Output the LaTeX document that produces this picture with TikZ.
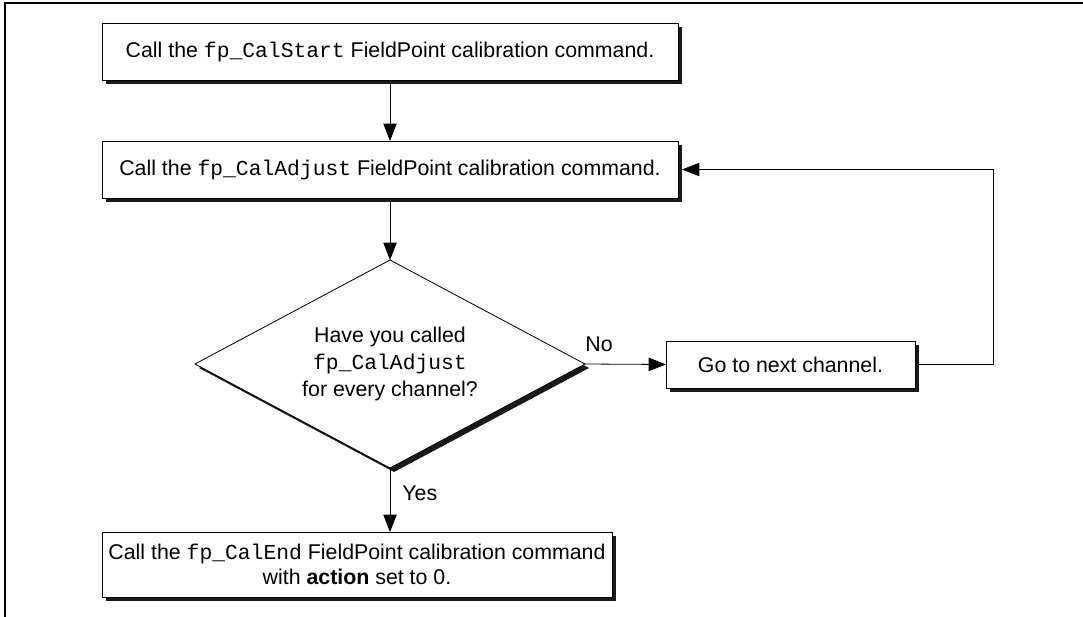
\documentclass[tikz,border=0pt]{standalone}
\usepackage{fontspec}
\setmainfont{Liberation Sans}
\setmonofont{Liberation Mono}
\usetikzlibrary{arrows.meta,shapes.geometric,shadows,positioning}

\tikzset{
	stepbox/.style={draw, line width=0.6pt, fill=white, align=center, inner sep=0pt, outer sep=0pt,
		font=\fontsize{16pt}{18.5pt}\selectfont,
		drop shadow={shadow xshift=3pt, shadow yshift=-3pt, opacity=1, fill=black!90}},
	decision/.style={stepbox, diamond, shape aspect=1.875, font=\fontsize{16pt}{20pt}\selectfont},
	flow/.style={-{Triangle[length=13pt,width=10pt]}, line width=0.6pt},
	flowlabel/.style={font=\fontsize{16pt}{18.5pt}\selectfont, inner sep=0pt}
}

\begin{document}
\begin{tikzpicture}[x=0.75pt,y=-0.75pt]
	\useasboundingbox (0,0) rectangle (1083,617);
	\draw[line width=1.9pt] (5,617) -- (5,3) -- (1083,3);

	\node[stepbox, minimum width=432pt, minimum height=42.75pt] (calstart) at (390,51.5)
		{Call the \texttt{fp\_CalStart} FieldPoint calibration command.};
	\node[stepbox, minimum width=432pt, minimum height=42.75pt] (caladjust) at (390,169.5)
		{Call the \texttt{fp\_CalAdjust} FieldPoint calibration command.};
	\node[decision, minimum width=292.5pt, minimum height=156pt] (check) at (390,364)
		{Have you called\\\texttt{fp\_CalAdjust}\\for every channel?};
	\node[stepbox, minimum width=186.75pt, minimum height=35.25pt] (next) at (790.5,364.5)
		{Go to next channel.};
	\node[stepbox, minimum width=382.5pt, minimum height=48.75pt] (calend) at (357,564.5)
		{Call the \texttt{fp\_CalEnd} FieldPoint calibration command\\with \textbf{action} set to 0.};

	\draw[flow] ([yshift=-3pt]calstart.south) -- (caladjust.north);
	\draw[flow] ([yshift=-3pt]caladjust.south) -- (check.north);
	\draw[flow] (check.south) -- node[flowlabel, pos=0.4, right=9pt] {Yes} (calend.north -| check.south);
	\draw[flow] (check.east) -- node[flowlabel, pos=0, anchor=south west, yshift=9pt] {No} (next.west);
	\draw[flow] ([xshift=3pt]next.east) -- ++(74,0) |- ([xshift=3pt]caladjust.east);
\end{tikzpicture}
\end{document}
